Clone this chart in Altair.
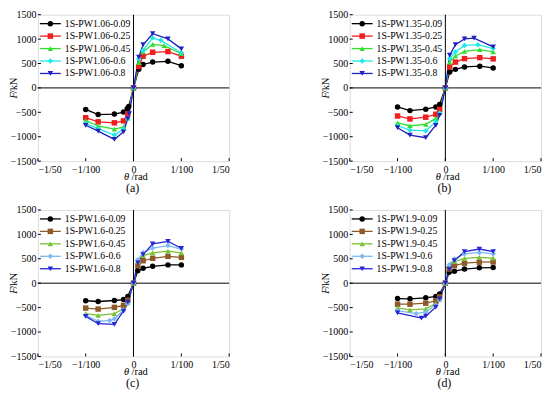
import altair as alt
import pandas as pd

FONT = "Liberation Serif"
W, H = 192, 147

X_TICKS = [-0.02, -0.01, 0, 0.01, 0.02]
X_LABELS = ["−1/50", "−1/100", "0", "1/100", "1/50"]
Y_TICKS = [-1500, -1000, -500, 0, 500, 1000, 1500]

SHAPES = ["circle", "square", "triangle-up", "diamond", "triangle-down"]
COLORS_AB = ["#000000", "#f01e1e", "#2fe02f", "#1fe8e8", "#2020c0"]
COLORS_CD = ["#000000", "#8f5a2a", "#79c232", "#7db8ee", "#2424d8"]

# ---------------- panel (a) ----------------
A_NAMES = ["1S-PW1.06-0.09", "1S-PW1.06-0.25", "1S-PW1.06-0.45", "1S-PW1.06-0.6", "1S-PW1.06-0.8"]
A_X1 = [-0.01, -0.0074, -0.004, -0.0021, -0.0013, -0.001, 0, 0.0011, 0.002, 0.004, 0.0072, 0.01]
A_F1 = [-440, -545, -535, -495, -420, -380, 0, 380, 480, 530, 545, 455]
A_X2 = [-0.01, -0.0074, -0.004, -0.0021, -0.0012, 0, 0.0011, 0.002, 0.004, 0.0072, 0.01]
A_F2 = [-610, -695, -715, -675, -530, 0, 440, 650, 730, 745, 650]
A_X3 = [-0.01, -0.0074, -0.004, -0.0021, -0.0012, 0, 0.0011, 0.002, 0.004, 0.0064, 0.01]
A_F3 = [-670, -780, -845, -805, -620, 0, 520, 740, 890, 865, 700]
A_X4 = [-0.01, -0.0074, -0.004, -0.0021, -0.0012, 0, 0.0011, 0.002, 0.004, 0.0057, 0.01]
A_F4 = [-730, -835, -965, -850, -625, 0, 600, 770, 1025, 975, 720]
A_X5 = [-0.01, -0.0074, -0.004, -0.0021, -0.0012, -0.0009, 0, 0.0011, 0.002, 0.004, 0.0072, 0.01]
A_F5 = [-765, -885, -1055, -900, -630, -525, 0, 630, 885, 1110, 1005, 800]

# ---------------- panel (b) ----------------
B_NAMES = ["1S-PW1.35-0.09", "1S-PW1.35-0.25", "1S-PW1.35-0.45", "1S-PW1.35-0.6", "1S-PW1.35-0.8"]
B_X1 = [-0.01, -0.0074, -0.0041, -0.002, -0.0012, 0, 0.0009, 0.0021, 0.004, 0.0072, 0.01]
B_F1 = [-390, -465, -435, -390, -340, 0, 325, 380, 430, 445, 410]
B_X2 = [-0.01, -0.0074, -0.0041, -0.002, -0.0012, 0, 0.0009, 0.0021, 0.004, 0.0072, 0.01]
B_F2 = [-575, -635, -600, -540, -440, 0, 430, 530, 600, 620, 595]
B_X3 = [-0.01, -0.0074, -0.0041, -0.002, -0.0012, 0, 0.0009, 0.0021, 0.004, 0.0072, 0.01]
B_F3 = [-715, -775, -745, -625, -500, 0, 530, 655, 750, 785, 740]
B_X4 = [-0.01, -0.0074, -0.0041, -0.002, -0.0012, 0, 0.0009, 0.0021, 0.004, 0.0068, 0.01]
B_F4 = [-775, -865, -880, -695, -520, 0, 600, 735, 870, 885, 805]
B_X5 = [-0.01, -0.0074, -0.0041, -0.002, -0.0012, 0, 0.0009, 0.0021, 0.004, 0.006, 0.01]
B_F5 = [-815, -965, -1020, -765, -560, 0, 670, 885, 1005, 1020, 840]

# ---------------- panel (c) ----------------
C_NAMES = ["1S-PW1.6-0.09", "1S-PW1.6-0.25", "1S-PW1.6-0.45", "1S-PW1.6-0.6", "1S-PW1.6-0.8"]
C_X1 = [-0.01, -0.0074, -0.004, -0.0021, -0.0012, 0, 0.0009, 0.002, 0.004, 0.0072, 0.01]
C_F1 = [-360, -375, -355, -335, -270, 0, 255, 305, 345, 375, 375]
C_X2 = [-0.01, -0.0074, -0.004, -0.0021, -0.0012, 0, 0.0009, 0.002, 0.004, 0.0072, 0.01]
C_F2 = [-510, -530, -495, -455, -350, 0, 360, 460, 510, 550, 530]
C_X3 = [-0.01, -0.0074, -0.004, -0.0021, -0.0012, 0, 0.0009, 0.002, 0.004, 0.0072, 0.01]
C_F3 = [-625, -660, -625, -525, -400, 0, 440, 565, 620, 655, 620]
C_X4 = [-0.01, -0.0074, -0.005, -0.004, -0.0021, -0.0012, 0, 0.0009, 0.002, 0.004, 0.0072, 0.01]
C_F4 = [-660, -780, -765, -730, -560, -420, 0, 480, 630, 720, 770, 700]
C_X5 = [-0.01, -0.0074, -0.004, -0.0021, -0.0012, 0, 0.0009, 0.002, 0.004, 0.0072, 0.01]
C_F5 = [-680, -830, -845, -570, -390, 0, 415, 585, 805, 855, 715]

# ---------------- panel (d) ----------------
D_NAMES = ["1S-PW1.9-0.09", "1S-PW1.9-0.25", "1S-PW1.9-0.45", "1S-PW1.9-0.6", "1S-PW1.9-0.8"]
D_X1 = [-0.01, -0.0074, -0.0041, -0.002, -0.0012, 0, 0.0008, 0.0019, 0.004, 0.0071, 0.01]
D_F1 = [-315, -320, -300, -270, -220, 0, 225, 245, 290, 315, 320]
D_X2 = [-0.01, -0.0074, -0.0041, -0.002, -0.0012, 0, 0.0008, 0.0019, 0.004, 0.0071, 0.01]
D_F2 = [-430, -430, -410, -360, -280, 0, 290, 360, 410, 430, 435]
D_X3 = [-0.01, -0.0074, -0.0041, -0.002, -0.0012, 0, 0.0008, 0.0019, 0.004, 0.0071, 0.01]
D_F3 = [-505, -545, -525, -420, -330, 0, 360, 440, 510, 530, 515]
D_X4 = [-0.01, -0.0061, -0.0041, -0.002, -0.0012, 0, 0.0008, 0.0019, 0.004, 0.0071, 0.01]
D_F4 = [-560, -625, -590, -450, -340, 0, 380, 495, 600, 630, 600]
D_X5 = [-0.01, -0.005, -0.0041, -0.002, -0.0012, 0, 0.0008, 0.0019, 0.004, 0.0071, 0.01]
D_F5 = [-610, -715, -675, -490, -320, 0, 290, 460, 645, 700, 645]

X_EXPR = "[" + ",".join(f"'{l}'" for l in X_LABELS) + "][indexof([" + ",".join(str(v) for v in X_TICKS) + "], datum.value)]"

XAXIS = alt.Axis(values=X_TICKS, labelExpr=X_EXPR, title=None, ticks=False, grid=False, domain=False,
                 labelOverlap=False, labelPadding=3, labelFont=FONT, labelFontSize=10, labelColor="black")
YAXIS = alt.Axis(values=Y_TICKS, format="d", title=None, ticks=False, grid=False, domain=False,
                 labelOverlap=False, labelPadding=2, labelFont=FONT, labelFontSize=10, labelColor="black")


def panel(names, xs, fs, colors, caption):
    rows = []
    for n, xv, fv in zip(names, xs, fs):
        for a, b in zip(xv, fv):
            rows.append({"s": n, "x": a, "F": b})
    df = pd.DataFrame(rows)
    xsc = alt.Scale(domain=[-0.02, 0.02], nice=False, zero=False)
    ysc = alt.Scale(domain=[-1500, 1500], nice=False, zero=False)
    color = alt.Color("s:N", scale=alt.Scale(domain=names, range=colors), legend=None)
    shape = alt.Shape("s:N", scale=alt.Scale(domain=names, range=SHAPES), legend=None)

    def X(f):
        return alt.X(f, scale=xsc, axis=XAXIS)

    def Y(f):
        return alt.Y(f, scale=ysc, axis=YAXIS)

    base = alt.Chart(df)
    lines = base.mark_line(strokeWidth=1.3).encode(x=X("x:Q"), y=Y("F:Q"), color=color, detail="s:N")
    pts = base.mark_point(filled=True, size=30, opacity=1).encode(
        x=X("x:Q"), y=Y("F:Q"), color=color, shape=shape)

    zero = pd.DataFrame({"v": [0]})
    vline = alt.Chart(zero).mark_rule(color="black", strokeWidth=1).encode(x=X("v:Q"))
    hline = alt.Chart(zero).mark_rule(color="black", strokeWidth=1).encode(y=Y("v:Q"))

    xt = pd.DataFrame({"t": X_TICKS})
    yt = pd.DataFrame({"t": Y_TICKS})
    xticks = alt.Chart(xt).mark_rule(color="black", strokeWidth=1).encode(
        x=X("t:Q"), y=alt.value(H), y2=alt.value(H - 3))
    yticks = alt.Chart(yt).mark_rule(color="black", strokeWidth=1).encode(
        y=Y("t:Q"), x=alt.value(0), x2=alt.value(3))

    layers = [lines, vline, hline, xticks, yticks, pts]

    for i, n in enumerate(names):
        d = pd.DataFrame({"s": [n]})
        yy = 9 + 12.5 * i
        layers.append(alt.Chart(d).mark_rule(strokeWidth=1.3).encode(
            x=alt.value(2), x2=alt.value(23), y=alt.value(yy), color=color))
        layers.append(alt.Chart(d).mark_point(filled=True, size=30, opacity=1).encode(
            x=alt.value(12.5), y=alt.value(yy), color=color, shape=shape))
        layers.append(alt.Chart(d).mark_text(align="left", baseline="middle", font=FONT, fontSize=9.8,
                                             color="black").encode(
            x=alt.value(27), y=alt.value(yy), text="s:N"))

    lab = pd.DataFrame({"a": ["θ"], "b": ["/rad"], "c": ["F"], "d": ["/kN"], "e": [caption]})
    txt = alt.Chart(lab)
    layers.append(txt.mark_text(align="center", baseline="middle", font=FONT, fontSize=10.5,
                                fontStyle="italic", color="black").encode(
        x=alt.value(89), y=alt.value(163), text="a:N"))
    layers.append(txt.mark_text(align="left", baseline="middle", font=FONT, fontSize=10.5,
                                color="black").encode(
        x=alt.value(94), y=alt.value(163), text="b:N"))
    layers.append(txt.mark_text(align="center", baseline="middle", font=FONT, fontSize=10.5,
                                fontStyle="italic", angle=270, color="black").encode(
        x=alt.value(-24), y=alt.value(81), text="c:N"))
    layers.append(txt.mark_text(align="center", baseline="middle", font=FONT, fontSize=10.5,
                                angle=270, color="black").encode(
        x=alt.value(-24), y=alt.value(71), text="d:N"))
    layers.append(txt.mark_text(align="center", baseline="middle", font=FONT, fontSize=12,
                                color="black").encode(
        x=alt.value(95), y=alt.value(174), text="e:N"))

    return alt.layer(*layers).properties(width=W, height=H)


pa = panel(A_NAMES, [A_X1, A_X2, A_X3, A_X4, A_X5], [A_F1, A_F2, A_F3, A_F4, A_F5], COLORS_AB, "(a)")
pb = panel(B_NAMES, [B_X1, B_X2, B_X3, B_X4, B_X5], [B_F1, B_F2, B_F3, B_F4, B_F5], COLORS_AB, "(b)")
pc = panel(C_NAMES, [C_X1, C_X2, C_X3, C_X4, C_X5], [C_F1, C_F2, C_F3, C_F4, C_F5], COLORS_CD, "(c)")
pd_ = panel(D_NAMES, [D_X1, D_X2, D_X3, D_X4, D_X5], [D_F1, D_F2, D_F3, D_F4, D_F5], COLORS_CD, "(d)")

chart = alt.concat(pa, pb, pc, pd_, columns=2, spacing=alt.RowColnumber(row=49, column=121),
                   bounds="flush").resolve_scale(color="independent", shape="independent").properties(
    padding=0).configure_view(stroke="black", strokeWidth=1).configure_axis(
    labelFont=FONT, labelFontSize=10, labelColor="black", labelOverlap=False).configure(
    background="white")

chart.save("out.html", embed_options={"renderer": "svg", "actions": False})
